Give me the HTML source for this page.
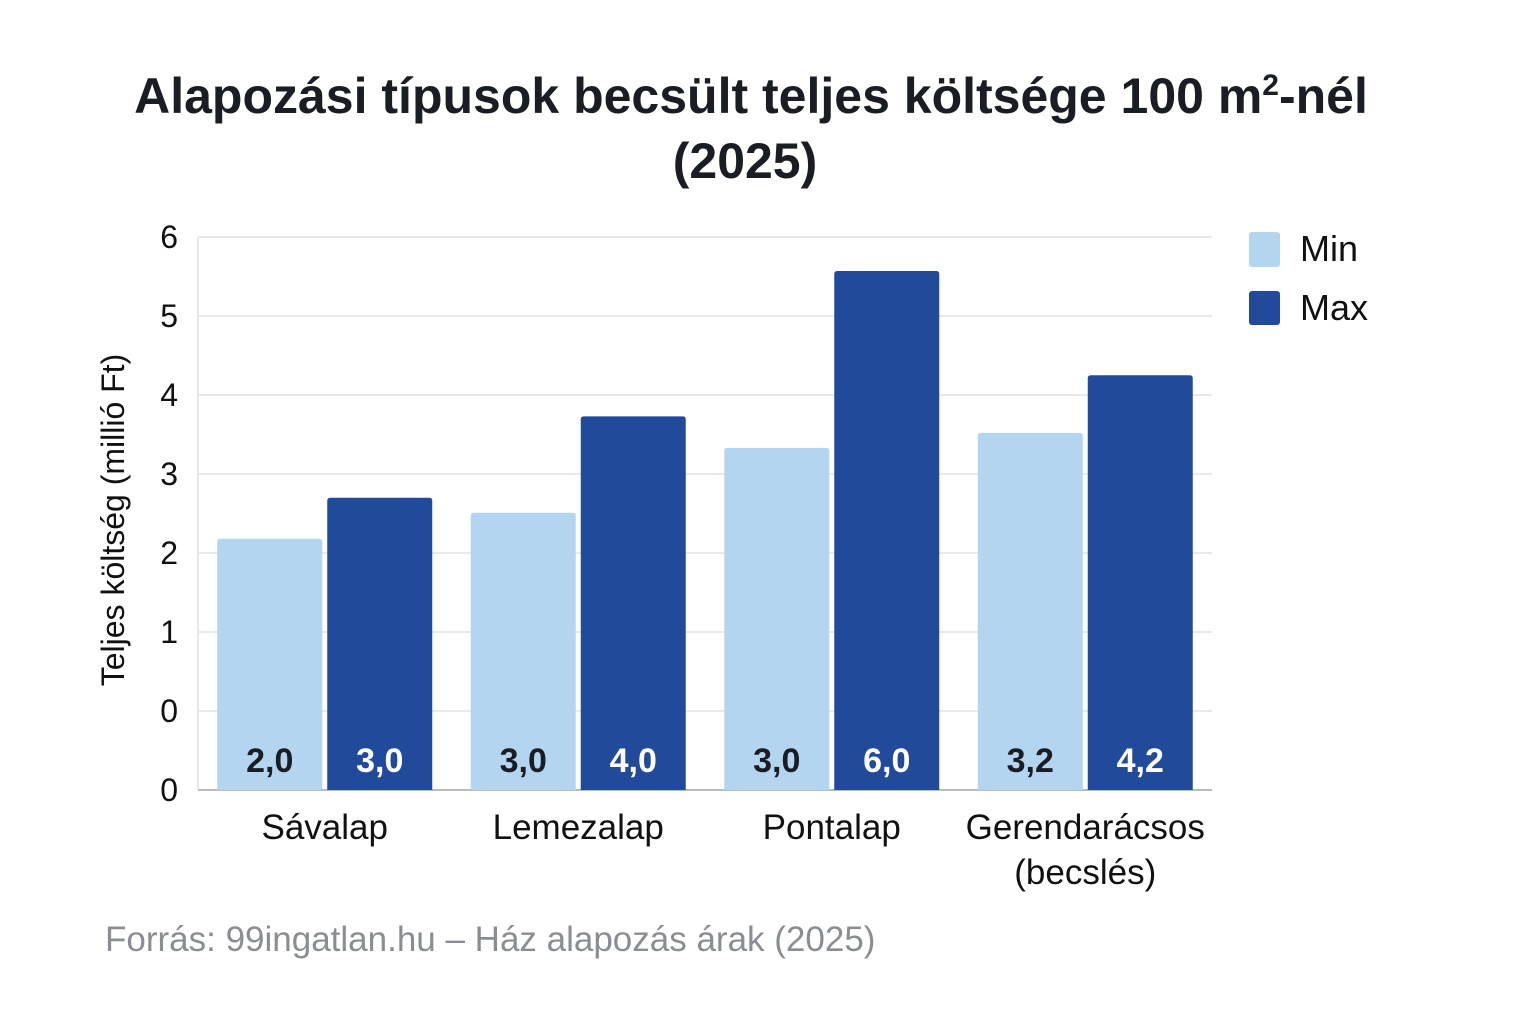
<!DOCTYPE html>
<html><head><meta charset="utf-8"><style>
html,body{margin:0;padding:0;background:#fff;}
svg text{font-family:"Liberation Sans",sans-serif;}
</style></head><body>
<svg id="chart" width="1536" height="1024" viewBox="0 0 1536 1024" xmlns="http://www.w3.org/2000/svg">
<rect width="1536" height="1024" fill="#fff"/>
<text x="751" y="113" text-anchor="middle" font-size="50" font-weight="bold" fill="#1a1d24">Alapozási típusok becsült teljes költsége 100 m<tspan font-size="30" dy="-18">2</tspan><tspan dy="18">-nél</tspan></text>
<text x="745" y="178" text-anchor="middle" font-size="50" font-weight="bold" fill="#1a1d24">(2025)</text>
<g id="grid"></g><g id="bars"></g><g id="labels"></g>
<text transform="translate(124,520) rotate(-90)" text-anchor="middle" font-size="32" fill="#111">Teljes költség (millió Ft)</text>
<rect x="1249" y="232" width="31" height="35" rx="3" fill="#b3d5f0"/>
<text x="1300" y="261" font-size="36" fill="#111">Min</text>
<rect x="1249" y="291" width="31" height="34" rx="3" fill="#214a9b"/>
<text x="1300" y="320" font-size="36" fill="#111">Max</text>
<text x="105" y="951" font-size="35" fill="#8a8d92">Forrás: 99ingatlan.hu – Ház alapozás árak (2025)</text>
</svg>
<script>
const categories=["Sávalap","Lemezalap","Pontalap","Gerendarácsos|(becslés)"];
const minValues=[3.18,3.51,4.33,4.52];
const maxValues=[3.70,4.73,6.57,5.25];
const minLabels=["2,0","3,0","3,0","3,2"];
const maxLabels=["3,0","4,0","6,0","4,2"];
const tickValues=[7,6,5,4,3,2,1,0];
const tickLabels=["6","5","4","3","2","1","0","0"];
const NS="http://www.w3.org/2000/svg";
const x0=198,x1=1212,y0=790,unit=79;
const y=v=>y0-v*unit;
const band=(x1-x0)/categories.length;
const cx=i=>x0+band*(i+0.5);
function mk(tag,attrs,parent,text){const e=document.createElementNS(NS,tag);for(const k in attrs)e.setAttribute(k,attrs[k]);if(text!==undefined)e.textContent=text;document.getElementById(parent).appendChild(e);return e;}
tickValues.forEach((v,i)=>{
  const l=mk('line',{x1:x0,x2:x1,y1:y(v),y2:y(v),stroke:v===0?'#bbb':'#e2e2e2','stroke-width':v===0?2:1.5},'grid');
  
  
  const t=mk('text',{x:178,y:y(v)+11,'text-anchor':'end','font-size':32,fill:'#111'},'grid',tickLabels[i]);
  
  
});
const ax=mk('line',{x1:x0,x2:x0,y1:y(7),y2:y0,stroke:'#e2e2e2','stroke-width':1.5},'grid');


const bw=105,gap=5;
categories.forEach((c,i)=>{
  const c0=cx(i);
  [[minValues[i],'#b3d5f0',c0-gap/2-bw,minLabels[i],'bar-min'],[maxValues[i],'#214a9b',c0+gap/2,maxLabels[i],'bar-max']].forEach(([v,col,bx,lab,nm])=>{
    const r=mk('path',{d:`M${bx},${y0}V${y(v)+3}Q${bx},${y(v)} ${bx+3},${y(v)}H${bx+bw-3}Q${bx+bw},${y(v)} ${bx+bw},${y(v)+3}V${y0}Z`,fill:col},'bars');
    
    
    const t=mk('text',{x:bx+bw/2,y:772,'text-anchor':'middle','font-size':34,'font-weight':'bold',fill:nm==='bar-min'?'#1a1d24':'#fff'},'labels',lab);
    
    
  });
  c.split('|').forEach((line,j)=>{
    const t=mk('text',{x:c0,y:839+j*45,'text-anchor':'middle','font-size':35,fill:'#111'},'labels',line);
    
    
  });
});
</script>
</body></html>
